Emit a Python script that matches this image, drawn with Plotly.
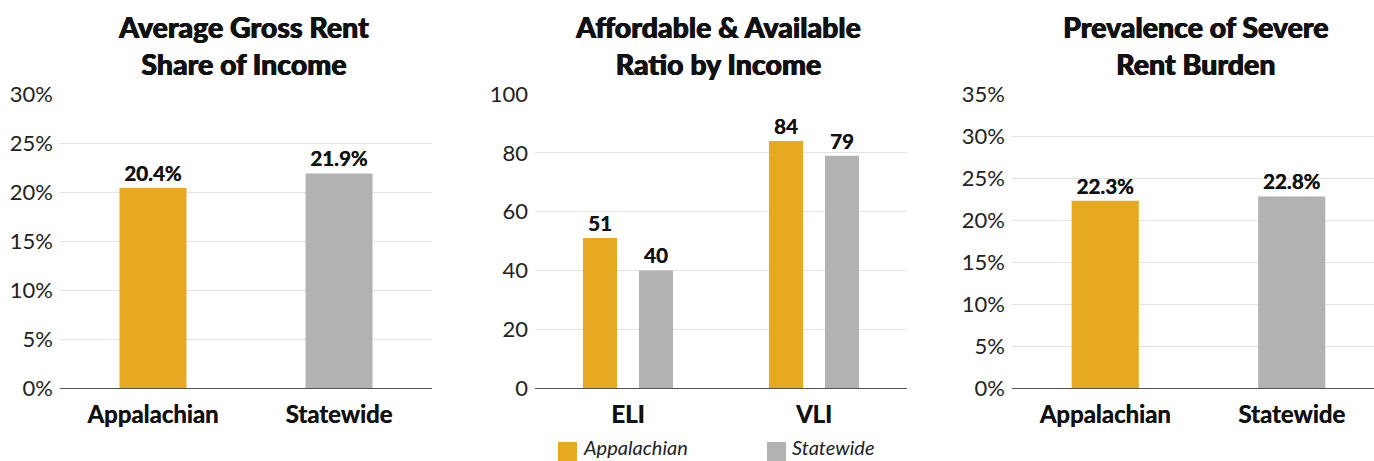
import plotly.graph_objects as go

W, H = 1374, 461

# Panel 1: average gross rent as share of income
rent_categories = ["Appalachian", "Statewide"]
rent_share = [20.4, 21.9]

# Panel 2: affordable & available units per 100 renter households
ratio_categories = ["ELI", "VLI"]
ratio_appalachian = [51, 84]
ratio_statewide = [40, 79]

# Panel 3: share of renters with severe rent burden
burden_categories = ["Appalachian", "Statewide"]
burden_share = [22.3, 22.8]

series_names = ["Appalachian", "Statewide"]

GOLD = "#E8A922"
GRAY = "#B2B3B0"
FONT = "Lato"
INK = "#111111"


def fx(p):
    return p / W


def fy(p):
    return 1 - p / H


value_font = dict(family=FONT, size=20.5, color=INK, weight="bold",
                  shadow="0.3px 0 0 #111111")

fig = go.Figure()

fig.add_trace(go.Bar(
    x=rent_categories, y=rent_share, width=0.36,
    marker=dict(color=[GOLD, GRAY], line=dict(width=0)),
    texttemplate="%{y:.1f}%", textposition="outside", textfont=value_font,
    constraintext="none", cliponaxis=False, showlegend=False,
    xaxis="x", yaxis="y",
))

fig.add_trace(go.Bar(
    x=ratio_categories, y=ratio_appalachian, name=series_names[0],
    width=0.183, offset=-0.242,
    marker=dict(color=GOLD, line=dict(width=0)),
    texttemplate="%{y}", textposition="outside", textfont=value_font,
    constraintext="none", cliponaxis=False, showlegend=False,
    xaxis="x2", yaxis="y2",
))
fig.add_trace(go.Bar(
    x=ratio_categories, y=ratio_statewide, name=series_names[1],
    width=0.183, offset=0.059,
    marker=dict(color=GRAY, line=dict(width=0)),
    texttemplate="%{y}", textposition="outside", textfont=value_font,
    constraintext="none", cliponaxis=False, showlegend=False,
    xaxis="x2", yaxis="y2",
))

fig.add_trace(go.Bar(
    x=burden_categories, y=burden_share, width=0.36,
    marker=dict(color=[GOLD, GRAY], line=dict(width=0)),
    texttemplate="%{y:.1f}%", textposition="outside", textfont=value_font,
    constraintext="none", cliponaxis=False, showlegend=False,
    xaxis="x3", yaxis="y3",
))

y_dom = [fy(388), fy(94)]
tick_font = dict(family=FONT, size=22, color="#222222")
cat_font = dict(family=FONT, size=24, color=INK, weight="bold",
                shadow="0.3px 0 0 #111111")


def xaxis(dom, rng, anchor):
    return dict(domain=dom, range=rng, anchor=anchor, type="category",
                showgrid=False, zeroline=False, showline=False, ticks="",
                tickfont=cat_font, automargin=False, ticklabelstandoff=10,
                fixedrange=True)


def yaxis(rng, dtick, suffix, anchor):
    return dict(domain=y_dom, range=rng, dtick=dtick, tick0=0, anchor=anchor,
                ticksuffix=suffix, showgrid=True, gridcolor="#E3E3E3", gridwidth=1,
                zeroline=True, zerolinecolor="#555555", zerolinewidth=1.2,
                showline=False, ticks="", tickfont=tick_font, automargin=False,
                ticklabelstandoff=6, fixedrange=True)


fig.update_layout(
    width=W, height=H,
    margin=dict(l=0, r=0, t=0, b=0, pad=0, autoexpand=False),
    paper_bgcolor="white", plot_bgcolor="white",
    barmode="overlay",
    font=dict(family=FONT),
    xaxis=xaxis([fx(60), fx(432)], [-0.5, 1.5], "y"),
    yaxis=yaxis([0, 30], 5, "%", "x"),
    xaxis2=xaxis([fx(535), fx(907)], [-0.5, 1.5], "y2"),
    yaxis2=yaxis([0, 100], 20, "", "x2"),
    xaxis3=xaxis([fx(1012), 1.0], [-0.5, 1.441], "y3"),
    yaxis3=yaxis([0, 35], 5, "%", "x3"),
)

titles = [
    ("Average Gross Rent<br>Share of Income", 243),
    ("Affordable & Available<br>Ratio by Income", 718),
    ("Prevalence of Severe<br>Rent Burden", 1195),
]
for text, cx in titles:
    fig.add_annotation(
        text=text, x=fx(cx), y=fy(45.5), xref="paper", yref="paper",
        xanchor="center", yanchor="middle", showarrow=False,
        font=dict(family=FONT, size=28.5, color=INK, weight=900,
                  shadow="0.6px 0 0 #111111, -0.3px 0 0 #111111"),
    )

# Legend for the grouped panel
legend_items = [(series_names[0], GOLD, 558), (series_names[1], GRAY, 767)]
for name, color, left in legend_items:
    fig.add_shape(type="rect", xref="paper", yref="paper",
                  x0=fx(left), x1=fx(left + 19), y0=fy(461), y1=fy(442),
                  fillcolor=color, line=dict(width=0))
    fig.add_annotation(
        text=name, x=fx(left + 23), y=0, xref="paper", yref="paper",
        xanchor="left", yanchor="bottom", showarrow=False,
        font=dict(family=FONT, size=20, color="#222222", style="italic"),
    )

fig.write_html("out.html")
